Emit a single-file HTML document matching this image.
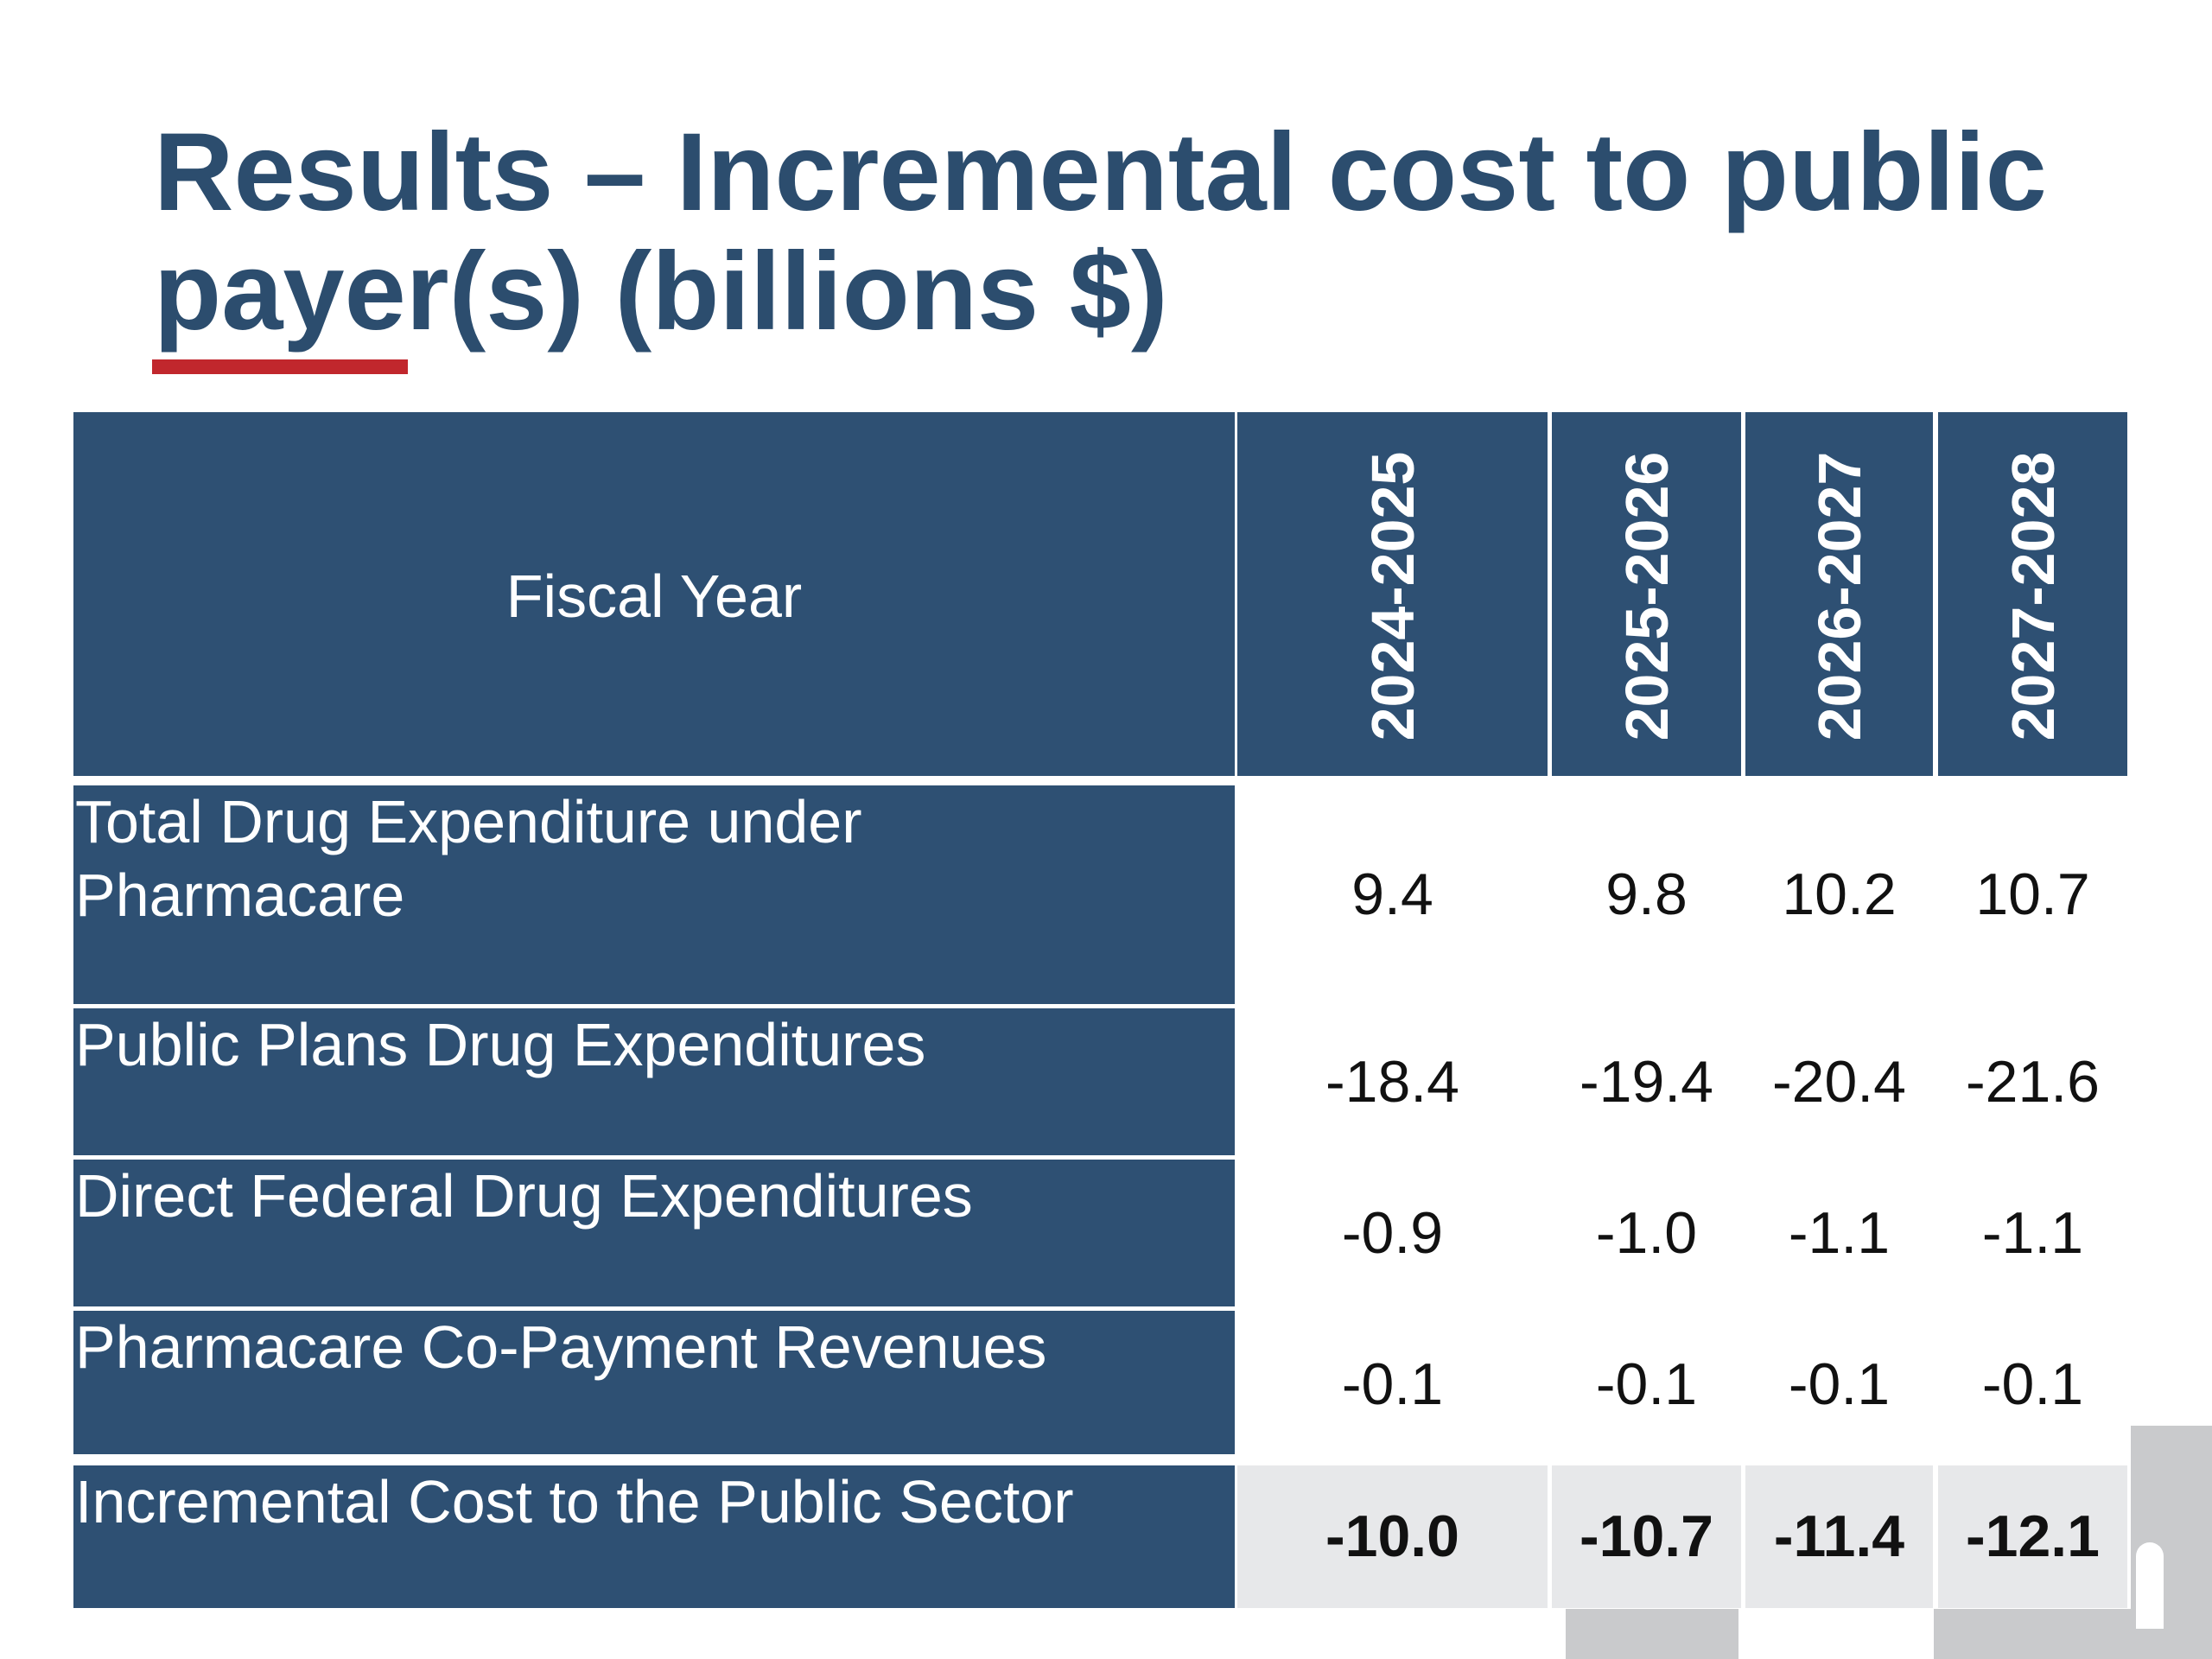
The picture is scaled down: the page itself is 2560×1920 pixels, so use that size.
<!DOCTYPE html>
<html><head><meta charset="utf-8"><style>
body{margin:0;width:2560px;height:1920px;background:#fff;position:relative;overflow:hidden;font-family:"Liberation Sans",sans-serif}
.a{position:absolute}
.title{left:178px;color:#2c4d6e;font-weight:bold;font-size:128px;white-space:nowrap;line-height:1}
.blue{background:#2e5073}
.lab{color:#fff;font-size:70px;line-height:85px;padding-left:2px;box-sizing:border-box;white-space:nowrap}
.num{color:#111;font-size:68px;text-align:center;line-height:1}
.yr{color:#fff;font-weight:bold;font-size:70px;transform:rotate(-90deg);transform-origin:center;white-space:nowrap;text-align:center;width:400px}
.g{background:#c9cacc}
</style></head><body>
<div class="a title" style="top:136px">Results – Incremental cost to public</div>
<div class="a title" style="top:274px">payer(s) (billions $)</div>
<div class="a" style="left:176px;top:416px;width:296px;height:17px;background:#c1272d"></div>

<div class="a g" style="left:2466px;top:1650px;width:94px;height:270px"></div>
<div class="a g" style="left:1812px;top:1862px;width:200px;height:58px"></div>
<div class="a g" style="left:2238px;top:1862px;width:230px;height:58px"></div>
<div class="a" style="left:2472px;top:1785px;width:32px;height:100px;background:#fff;border-radius:16px 16px 0 0"></div>

<div id="tbl"></div>
<script>
const years=["2024-2025","2025-2026","2026-2027","2027-2028"];
const rowLabels=[["Total Drug Expenditure under","Pharmacare"],["Public Plans Drug Expenditures"],["Direct Federal Drug Expenditures"],["Pharmacare Co-Payment Revenues"],["Incremental Cost to the Public Sector"]];
const r0=["9.4","9.8","10.2","10.7"];
const r1=["-18.4","-19.4","-20.4","-21.6"];
const r2=["-0.9","-1.0","-1.1","-1.1"];
const r3=["-0.1","-0.1","-0.1","-0.1"];
const r4=["-10.0","-10.7","-11.4","-12.1"];
const values=[r0,r1,r2,r3,r4];
const colX=[[1432,1791],[1796,2015],[2020,2237],[2243,2462]];
const rowY=[[909,1162],[1167,1337],[1342,1512],[1517,1683],[1696,1861]];
const numBase=[1061,1278,1453,1628,1804];
const T=document.getElementById('tbl');
function mk(cls,st,txt){const d=document.createElement('div');d.className='a '+cls;d.setAttribute('style',st);if(txt!==undefined)d.textContent=txt;T.appendChild(d);return d;}
let h=mk('blue','left:85px;top:477px;width:1344px;height:421px');


let fy=mk('lab','left:85px;top:648px;width:1344px;text-align:center;padding:0','Fiscal Year');


years.forEach((y,i)=>{
 const [x0,x1]=colX[i];
 const c=mk('blue',`left:${x0}px;top:477px;width:${x1-x0}px;height:421px`);
 
 
 const t=mk('yr',`left:${(x0+x1)/2-200}px;top:655px;height:70px;line-height:70px`,y);
 
 
});
rowLabels.forEach((lab,r)=>{
 const [y0,y1]=rowY[r];
 const c=mk('blue lab',`left:85px;top:${y0}px;width:1344px;height:${y1-y0}px;padding-top:0px`);
 c.innerHTML=lab.join('<br>');
 
 
 values[r].forEach((v,i)=>{
  const [x0,x1]=colX[i];
  if(r==4){const bg=mk('',`left:${x0}px;top:${y0}px;width:${x1-x0}px;height:${y1-y0}px;background:#e7e8ea`);
   
   }
  const n=mk('num',`left:${x0}px;top:${numBase[r]-60}px;width:${x1-x0}px;${r==4?'font-weight:bold;font-size:68px;':''}`,v);
  
  
 });
});
</script>
</body></html>
